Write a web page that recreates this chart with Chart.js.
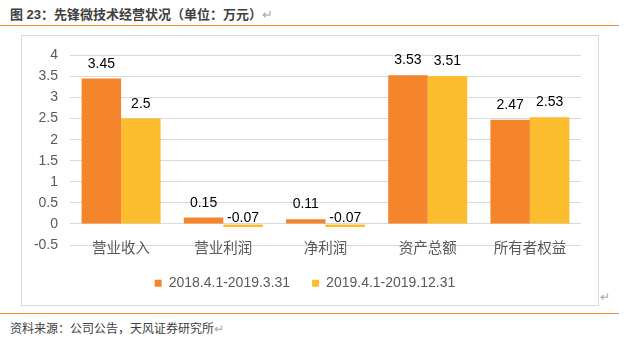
<!DOCTYPE html>
<html>
<head>
<meta charset="utf-8">
<script src="https://cdn.jsdelivr.net/npm/chart.js@4"></script>
<style>
  body { margin: 0; background: #fff; font-family: "Liberation Sans", "Noto Sans CJK SC", sans-serif; }
  .page { position: relative; width: 632px; height: 339px; overflow: hidden; }
  .title { position: absolute; left: 10px; top: 4px; font-size: 13px; font-weight: bold; color: #404040; white-space: nowrap; }
  .mark { color: #a6a6a6; font-weight: normal; }
  .rule { position: absolute; left: 0; width: 619px; height: 1px; background: #ef8a2b; }
  .frame { position: absolute; left: 21px; top: 35px; width: 578px; height: 271px; border: 1px solid #d9d9d9; box-sizing: border-box; }
  .chart { position: absolute; left: 21px; top: 35px; width: 578px; height: 271px; }
  .endmark { position: absolute; left: 600px; top: 290px; font-size: 12px; color: #a6a6a6; }
  .source { position: absolute; left: 10px; top: 319px; font-size: 12px; color: #404040; white-space: nowrap; }
</style>
</head>
<body>
<div class="page">
  <div class="title">图 23：先锋微技术经营状况（单位：万元）<span class="mark">↵</span></div>
  <div class="rule" style="top: 25px;"></div>
  <div class="frame"></div>
  <div class="chart"><canvas id="chart"></canvas></div>
  <div class="endmark">↵</div>
  <div class="rule" style="top: 313px;"></div>
  <div class="source">资料来源：公司公告，天风证券研究所<span class="mark">↵</span></div>
</div>
<script>
const ctx = document.querySelector("#chart").getContext("2d");
const labels = ["营业收入", "营业利润", "净利润", "资产总额", "所有者权益"];
const seriesNames = ["2018.4.1-2019.3.31", "2019.4.1-2019.12.31"];
const firstPeriod = [3.45, 0.15, 0.11, 3.53, 2.47];
const secondPeriod = [2.5, -0.07, -0.07, 3.51, 2.53];
const colors = ["#f5852a", "#fbbd2d"];

// value labels: above the bar top, negative values sit just over the zero line
const valueLabels = {
  id: "valueLabels",
  afterDatasetsDraw(chart) {
    const c = chart.ctx;
    const zero = chart.scales.y.getPixelForValue(0);
    c.save();
    c.font = "14px 'Liberation Sans'";
    c.fillStyle = "#000";
    c.textAlign = "center";
    c.textBaseline = "alphabetic";
    chart.data.datasets.forEach((ds, i) => {
      chart.getDatasetMeta(i).data.forEach((bar, j) => {
        const v = ds.data[j];
        const y = v >= 0 ? bar.y - 11 : zero - 1.7;
        c.fillText(String(v), bar.x, y);
      });
    });
    c.restore();
  },
};

// category names sit on the lowest gridline, so they are drawn here
// instead of by the axis (the axis clips labels to its own box)
const categoryLabels = {
  id: "categoryLabels",
  afterDatasetsDraw(chart) {
    const c = chart.ctx;
    const x = chart.scales.x;
    const y = chart.chartArea.bottom + 2.8;
    c.save();
    c.font = "14.5px 'Noto Sans CJK SC'";
    c.fillStyle = "#595959";
    c.textAlign = "center";
    c.textBaseline = "middle";
    labels.forEach((name, i) => {
      c.fillText(name, x.getPixelForValue(i), y);
    });
    c.restore();
  },
};

const data = {
  labels: labels,
  datasets: [
    { label: seriesNames[0], data: firstPeriod, backgroundColor: colors[0], borderWidth: 0 },
    { label: seriesNames[1], data: secondPeriod, backgroundColor: colors[1], borderWidth: 0 },
  ],
};

const config = {
  type: "bar",
  data: data,
  options: {
    responsive: true,
    maintainAspectRatio: false,
    animation: false,
    categoryPercentage: 0.773,
    barPercentage: 1,
    layout: {
      padding: { left: 8, right: 18, top: 18.7, bottom: 5.7 },
    },
    plugins: {
      tooltip: { enabled: false },
      legend: {
        position: "bottom",
        labels: {
          boxWidth: 7,
          boxHeight: 7,
          padding: 22,
          color: "#595959",
          font: { family: "'Liberation Sans'", size: 14 },
        },
      },
    },
    scales: {
      y: {
        min: -0.5,
        max: 4,
        ticks: {
          stepSize: 0.5,
          padding: 12,
          color: "#595959",
          font: { family: "'Liberation Sans'", size: 14 },
          callback: (value) => String(Math.round(value * 10) / 10),
        },
        grid: { color: "#d9d9d9", drawTicks: false },
        border: { display: false },
        afterFit: (scale) => { scale.width = 41; },
      },
      x: {
        ticks: { display: false },
        grid: { display: false, drawTicks: false },
        border: { display: false },
        afterFit: (scale) => { scale.height = 9.3; },
      },
    },
  },
  plugins: [valueLabels, categoryLabels],
};

const chart = new Chart(ctx, config);
</script>
</body>
</html>
